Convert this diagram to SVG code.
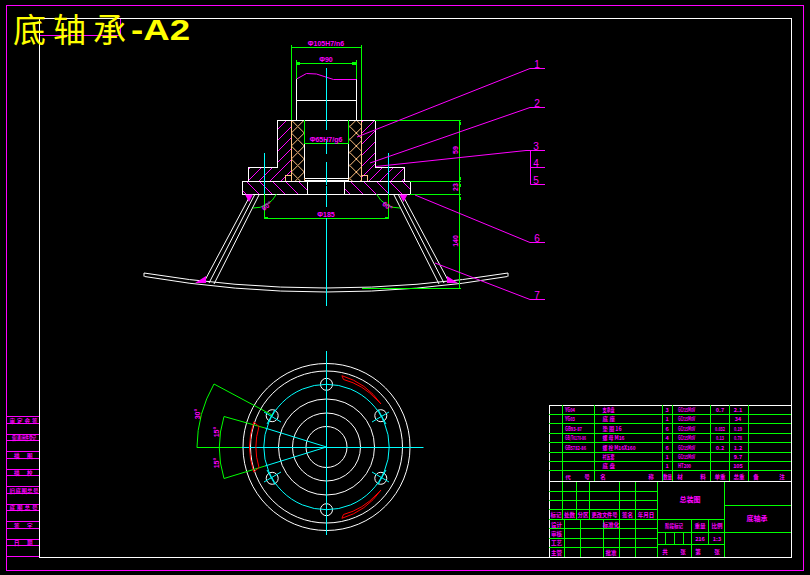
<svg xmlns="http://www.w3.org/2000/svg" width="810" height="575" viewBox="0 0 810 575">
<defs>
<style>
.w{stroke:#fff;fill:none;stroke-width:1}
.g{stroke:#0f0;fill:none;stroke-width:1}
.m{stroke:#f0f;fill:none;stroke-width:1}
.c{stroke:#0ff;fill:none;stroke-width:1}
.r{stroke:#f00;fill:none;stroke-width:1}
.t{fill:#f0f;font-family:"Noto Sans CJK SC","Liberation Sans",sans-serif;font-weight:700;font-size:5.5px;text-anchor:middle}
.l{fill:#f0f;font-family:"Noto Sans CJK SC","Liberation Sans",sans-serif;font-weight:700;font-size:5.5px}
.n{fill:#f0f;font-family:"Liberation Sans",sans-serif;font-size:10px;text-anchor:middle}
.d{fill:#f0f;font-family:"Liberation Sans",sans-serif;font-weight:700;font-size:7px;text-anchor:middle}
.a{fill:#f0f}
.k{fill:#0f0}
</style>
<pattern id="h1" width="11" height="11" patternUnits="userSpaceOnUse"><path d="M0 11L11 0" stroke="#f0f" stroke-width="1"/></pattern>
<pattern id="h2" width="13" height="13" patternUnits="userSpaceOnUse"><path d="M0 0L13 13" stroke="#f0f" stroke-width="1"/></pattern>
<pattern id="x" x="291.3" y="120" width="13" height="13" patternUnits="userSpaceOnUse"><path d="M0 0L13 13M0 13L13 0" stroke="#ffc080" stroke-width="1"/></pattern>
</defs>
<rect width="810" height="575" fill="#000"/>

<g id="frame" shape-rendering="crispEdges">
<rect x="6.5" y="5.5" width="797" height="565" class="m"/>
<rect x="39.5" y="18.5" width="751.5" height="539" class="w"/>
<path class="m" d="M40 35.5H120.5V19"/>
<path class="m" d="M6 416.5H39M6 423.5H39M6 434.5H39M6 440.5H39M6 451.5H39M6 458.5H39M6 469.5H39M6 475.5H39M6 486.5H39M6 493.5H39M6 504.5H39M6 510.5H39M6 521.5H39M6 528.5H39M6 539.5H39M6 545.5H39"/>
<path class="m" stroke-width="2" d="M6 556.5H39"/>
</g>
<g id="stamp-labels">
<text class="l" x="9.500 17 24.500 32" y="422.500">审定会签</text>
<text class="l" x="12" y="439.500" textLength="24" lengthAdjust="spacingAndGlyphs">借(通)用件登记</text>
<text class="l" x="14 27" y="457.500">描图</text>
<text class="l" x="14 27" y="475">描校</text>
<text class="l" x="9.500 15.500 21.500 27 33" y="492.500">旧底图总号</text>
<text class="l" x="9.500 17 24.500 32" y="510">底图总号</text>
<text class="l" x="14 27" y="527.500">签字</text>
<text class="l" x="14 27" y="545">日期</text>
</g>

<g id="title">
<text x="13" y="42" fill="#ff0" font-family="'Noto Sans CJK SC',sans-serif" font-size="33" letter-spacing="7">底轴承</text>
<text x="131" y="40" fill="#ff0" font-family="'Liberation Sans',sans-serif" font-weight="700" font-size="30" textLength="59" lengthAdjust="spacingAndGlyphs">-A2</text>
</g>

<g id="section" shape-rendering="crispEdges">
<path fill="url(#h1)" d="M277.5 120.5H291.5V181H248V167.5H277.5Z"/>
<path fill="url(#h1)" d="M361.5 120.5H375.5V167.5H404.5V181H361.5Z"/>
<path fill="url(#h2)" d="M242.5 181.5H307.5V194H242.5Z"/>
<path fill="url(#h2)" d="M344.5 181.5H410.5V194H344.5Z"/>
<rect x="291.5" y="120.5" width="13" height="60.5" fill="url(#x)"/>
<rect x="348.5" y="120.5" width="13" height="60.5" fill="url(#x)"/>
<path fill="none" stroke="#ffc080" d="M291.5 120V181M304.5 120V181M348.5 120V181M361.5 120V181M285.5 181V175.5H291.5M367.5 181V175.5H361.5"/>
<path class="w" d="M296.5 79V120M356.5 79V120M296.5 100.5H356.5"/>
<path class="w" d="M277.5 167.5V120.5H375.5V167.5H404.5V181M277.5 167.5H248.5V181"/>
<path class="w" d="M242.5 181.5H410.5V194.5H242.5ZM307.5 181.5V194.5M344.5 181.5V194.5M304.5 178.5H348.5M304.5 180.5H348.5M304.5 120V178M348.5 120V178"/>
</g>
<g id="plate">
<path class="w" d="M144 273Q326 303 508 273M144.500 276.500Q326 307.500 507.500 276.500M144 273V276.500M508 273V276.500"/>
<path class="w" d="M251 194L204 282M255 194L209 283M259.500 194L214 284M402 194L449 282M398 194L444 283M393.500 194L439 284"/>
<path class="a" d="M245 194.500H253L249 202ZM399.500 194.500H407.500L403.500 202ZM195 283L206 276V283ZM447 276L458 283H447Z"/>
</g>
<path class="m" d="M296.500 79L306.500 73.500 316.500 74 333.500 79.500H356.500"/>

<g id="dims" shape-rendering="crispEdges">
<path class="g" d="M291.500 45V120M361.500 45V120M291.500 47.500H361.500M296.500 60V79M356.500 60V79M296.500 63.500H356.500M304.500 120V143.500M348.500 120V143.500M304.500 143.500H348.500"/>
<path class="g" d="M375 120.500H461M410 181.500H461M410 194.500H461M362 288.500H461M459.500 120V289"/>
<path class="g" d="M264.500 194V218.500M388.500 194V218.500M264.500 218.500H388.500"/>
<path class="k" d="M291 47h4v1h-4zM358 47h4v1h-4zM296 62h4v3h-4zM352 62h4v3h-4zM304 143h3v1h-3zM345 143h3v1h-3zM265 217h3v2h-3zM385 217h3v2h-3zM459 122h2v3h-2zM459 177h2v3h-2zM459 184h2v3h-2zM459 197h2v3h-2z"/>
</g>
<path class="g" d="M253 208A25 25 0 0 0 276.500 194M400 208A25 25 0 0 1 376.500 194"/>
<path class="c" shape-rendering="crispEdges" d="M326.500 68V130M326.500 140V154M326.500 162V185M326.500 186V206.500M326.500 218V305.500M264.500 153V194M388.500 153V194"/>
<g id="dim-labels">
<text class="d" x="326" y="46">Φ105H7/n6</text>
<text class="d" x="326" y="62">Φ90</text>
<text class="d" x="326" y="142">Φ65H7/g6</text>
<text class="d" x="326" y="217">Φ185</text>
<text class="d" transform="translate(268 208) rotate(-35)">60°</text>
<text class="d" transform="translate(386 208) rotate(35)">60°</text>
<text class="d" transform="translate(458 150) rotate(-90)">59</text>
<text class="d" transform="translate(458 187) rotate(-90)">23</text>
<text class="d" transform="translate(458 241) rotate(-90)">140</text>
</g>

<g id="leaders">
<path class="m" d="M357 137L530 68.500H545M370 163L530 107.500H545M376 166.500L526 150.500H545M530.500 150.500V184.500H545M530.500 167.500H545M415 195L530 242.500H545M435 263L530 299.500H545"/>
<text class="n" x="537" y="67.500">1</text>
<text class="n" x="537" y="106.500">2</text>
<text class="n" x="536" y="149.500">3</text>
<text class="n" x="536" y="166.500">4</text>
<text class="n" x="536" y="183.500">5</text>
<text class="n" x="537" y="241.500">6</text>
<text class="n" x="537" y="298.500">7</text>
</g>

<g id="top-view">
<circle cx="326.500" cy="447" r="83.500" class="w"/>
<circle cx="326.500" cy="447" r="76" class="w"/>
<circle cx="326.500" cy="447" r="48" class="w"/>
<circle cx="326.500" cy="447" r="34" class="w"/>
<circle cx="326.500" cy="447" r="20.500" class="w"/>
<circle cx="326.500" cy="384.300" r="6" class="w"/>
<circle cx="326.500" cy="509.700" r="6" class="w"/>
<circle cx="380.800" cy="415.700" r="6" class="w"/>
<circle cx="380.800" cy="478.300" r="6" class="w"/>
<circle cx="272.200" cy="415.700" r="6" class="w"/>
<circle cx="272.200" cy="478.300" r="6" class="w"/>
<circle cx="326.500" cy="447" r="62.700" class="c"/>
<path class="c" d="M326.500 351V535M242 447.500H423.500"/>
<path class="c" d="M275 409.500L267 424M264 412L281 422M378 409.500L386 424M389 412L372 422M275 484.500L267 470M264 482L281 472M378 484.500L386 470M389 482L372 472"/>
<path class="c" d="M326.500 447L265 428M326.500 447L265 466"/>
<path class="g" d="M196.700 447.500H242M265 428L224 416.500M265 466L224 478.500M272 415L214 384M214 384A129.500 129.500 0 0 0 197 447M224 416.500A106.500 106.500 0 0 0 224 478.500"/>
<path class="r" d="M253.800 422A76 76 0 0 0 253.800 472M259 426.500A70 70 0 0 0 259 467.500M253.800 422L259 426.500M253.800 472L259 467.500"/>
<path class="r" d="M341.900 375.700L343.500 379.500A69 69 0 0 1 377 400L381 404A73 73 0 0 0 341.900 375.700Z"/>
<path class="r" d="M341.900 518.300L343.500 514.500A69 69 0 0 0 377 494L381 490A73 73 0 0 1 341.900 518.300Z"/>
<text class="d" transform="translate(200 414) rotate(-90)">30°</text>
<text class="d" transform="translate(219 432) rotate(-90)">15°</text>
<text class="d" transform="translate(219 463) rotate(-90)">15°</text>
</g>

<g id="bom" shape-rendering="crispEdges">
<path class="w" d="M549.500 405H791M549.500 405V557M549 481.500H791" stroke-width="2"/>
<path class="g" d="M549 414.500H791M549 423.500H791M549 433.500H791M549 442.500H791M549 452.500H791M549 461.500H791M549 470.500H791M562.500 405V481M594.500 405V481M662.500 405V481M672.500 405V481M710.500 405V481M729.500 405V481M748.500 405V481"/>
<path class="g" d="M549 491.500H657M549 500.500H657M549 509.500H657M549 519.500H657M549 528.500H657M549 538.500H657M549 547.500H657M562.500 482V519M576.500 482V519M589.500 482V519M619.500 482V557M635.500 482V557M657.500 482V557M564.500 519V557M580.500 519V557M603.500 519V557"/>
<path class="g" d="M724.500 482V557M724 505.500H791M657 532.500H791M657 519.500H724M657 544.500H724M691.500 519V557M708.500 519V544M665.500 532V544M674.500 532V544M683.500 532V544"/>
</g>
<g id="bom-text">
<text class="l" x="565" y="412" textLength="10" lengthAdjust="spacingAndGlyphs">YG04</text><text class="l" x="602.500" y="412" textLength="12" lengthAdjust="spacingAndGlyphs">支承盘</text><text class="t" x="667" y="412">3</text><text class="l" x="678" y="412" textLength="17" lengthAdjust="spacingAndGlyphs">GCr15MoV</text><text class="t" x="720" y="412">0.7</text><text class="t" x="738" y="412">2.1</text>
<text class="l" x="565" y="421" textLength="10" lengthAdjust="spacingAndGlyphs">YG03</text><text class="l" x="602.500 609.500" y="421">底座</text><text class="t" x="667" y="421">1</text><text class="l" x="678" y="421" textLength="17" lengthAdjust="spacingAndGlyphs">GCr15MoV</text><text class="t" x="738" y="421">34</text>
<text class="l" x="565" y="431" textLength="17" lengthAdjust="spacingAndGlyphs">GB93-87</text><text class="l" x="602.500" y="431" textLength="19" lengthAdjust="spacingAndGlyphs">垫 圈 16</text><text class="t" x="667" y="431">6</text><text class="l" x="678" y="431" textLength="17" lengthAdjust="spacingAndGlyphs">GCr15MoV</text><text class="t" x="720" y="431" textLength="10" lengthAdjust="spacingAndGlyphs">0.032</text><text class="t" x="738" y="431" textLength="8" lengthAdjust="spacingAndGlyphs">0.19</text>
<text class="l" x="565" y="440" textLength="21" lengthAdjust="spacingAndGlyphs">GB/T6170-86</text><text class="l" x="602.500" y="440" textLength="22" lengthAdjust="spacingAndGlyphs">螺 母 M16</text><text class="t" x="667" y="440">4</text><text class="l" x="678" y="440" textLength="17" lengthAdjust="spacingAndGlyphs">GCr15MoV</text><text class="t" x="720" y="440" textLength="8" lengthAdjust="spacingAndGlyphs">0.13</text><text class="t" x="738" y="440" textLength="8" lengthAdjust="spacingAndGlyphs">0.78</text>
<text class="l" x="565" y="450" textLength="21" lengthAdjust="spacingAndGlyphs">GB5782-86</text><text class="l" x="602.500" y="450" textLength="33" lengthAdjust="spacingAndGlyphs">螺 栓 M16X160</text><text class="t" x="667" y="450">6</text><text class="l" x="678" y="450" textLength="17" lengthAdjust="spacingAndGlyphs">GCr15MoV</text><text class="t" x="720" y="450">0.2</text><text class="t" x="738" y="450">1.2</text>
<text class="l" x="602.500" y="459" textLength="12" lengthAdjust="spacingAndGlyphs">衬瓦套</text><text class="t" x="667" y="459">1</text><text class="l" x="678" y="459" textLength="17" lengthAdjust="spacingAndGlyphs">GCr15MoV</text><text class="t" x="738" y="459">9.7</text>
<text class="l" x="602.500 609.500" y="468">底盘</text><text class="t" x="667" y="468">1</text><text class="l" x="678" y="468" textLength="13" lengthAdjust="spacingAndGlyphs">HT200</text><text class="t" x="738" y="468">105</text>
<text class="t" x="568" y="479">代</text><text class="t" x="587" y="479">号</text><text class="t" x="603" y="479">名</text><text class="t" x="651" y="479">称</text><text class="t" x="667.500" y="479" textLength="9" lengthAdjust="spacingAndGlyphs">数量</text><text class="t" x="680" y="479">材</text><text class="t" x="703" y="479">料</text><text class="t" x="720" y="479">单重</text><text class="t" x="739" y="479">总重</text><text class="t" x="756" y="479">备</text><text class="t" x="782" y="479">注</text>
</g>
<g id="title-block-text">
<text class="t" x="556" y="517">标记</text><text class="t" x="569.500" y="517">处数</text><text class="t" x="583" y="517">分区</text><text class="t" x="604.500" y="517" textLength="26" lengthAdjust="spacingAndGlyphs">更改文件号</text><text class="t" x="627.500" y="517">签名</text><text class="t" x="646" y="517">年月日</text>
<text class="t" x="556.500" y="526.500">设计</text><text class="t" x="611" y="526.500">标准化</text>
<text class="t" x="556.500" y="535.500">审核</text>
<text class="t" x="556.500" y="545">工艺</text>
<text class="t" x="556.500" y="554.500">主管</text><text class="t" x="611" y="554.500">批准</text>
<text class="t" x="690" y="502" style="font-size:7px">总装图</text>
<text class="t" x="757" y="521" style="font-size:7px">底轴承</text>
<text class="t" x="674" y="528" textLength="18" lengthAdjust="spacingAndGlyphs">阶段标记</text><text class="t" x="700" y="528">重量</text><text class="t" x="717" y="528">比例</text>
<text class="t" x="700" y="541">216</text><text class="t" x="717" y="541">1:3</text>
<text class="t" x="665" y="554">共</text><text class="t" x="683" y="554">张</text><text class="t" x="698" y="554">第</text><text class="t" x="717" y="554">张</text>
</g>
</svg>
